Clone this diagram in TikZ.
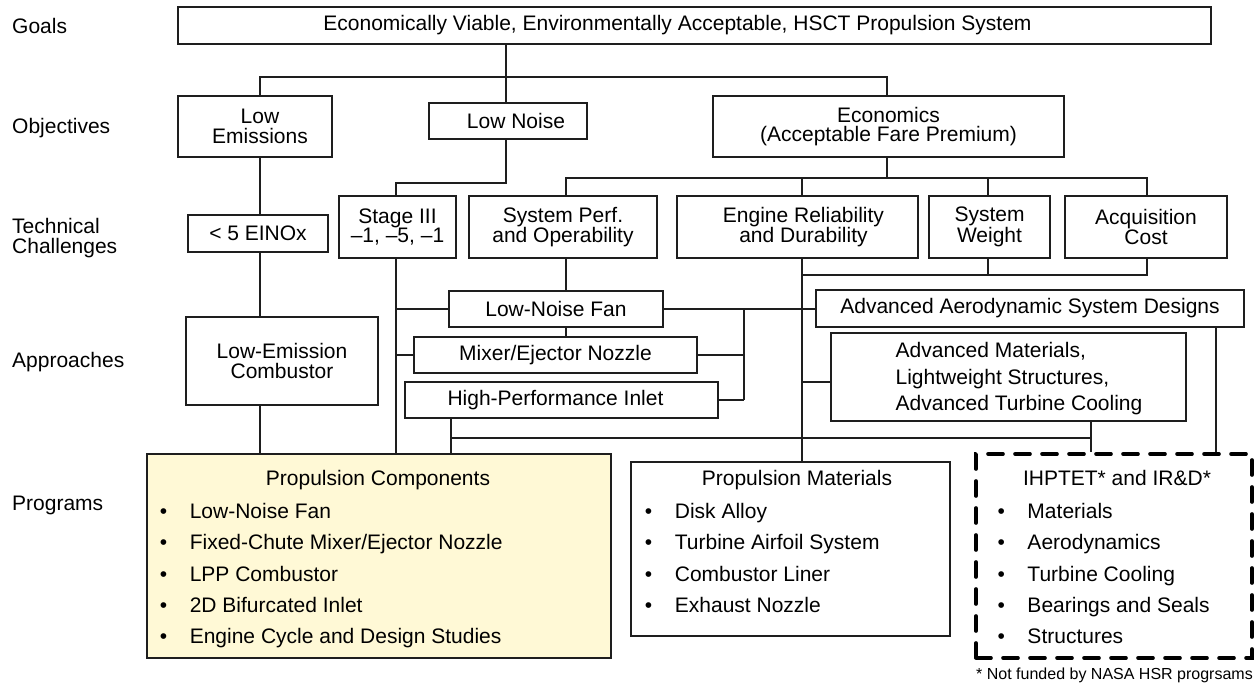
\documentclass[tikz,border=0pt]{standalone}
\usepackage{fontspec}
\setmainfont{Liberation Sans}
\definecolor{pcfill}{RGB}{255,249,214}
\definecolor{ink}{RGB}{30,30,30}
\newcommand\bul{\makebox[30pt][l]{\textbullet}}
\begin{document}
\begin{tikzpicture}[x=1pt,y=-1pt,
  every node/.style={font=\fontsize{21}{19.5}\selectfont, text=black},
  box/.style={draw=ink, line width=1.2pt, inner sep=0pt, align=center, fill=white},
  lnk/.style={draw=ink, line width=1.2pt},
  rowlab/.style={anchor=base west, align=left, inner sep=0pt},
  item/.style={anchor=base west, inner sep=0pt},
  ttl/.style={anchor=base, inner sep=0pt},
  dashbox/.style={draw=black, line width=3.6pt, dash pattern=on 15pt off 12pt, line cap=round, inner sep=0pt}
]
\useasboundingbox (0,0) rectangle (1256,687);

% row labels
\node[rowlab] (lgoal) at (12,34) {Goals};
\node[rowlab] (lobj) at (12,133.5) {Objectives};
\node[rowlab, anchor=west] (ltech) at (12,238) {Technical\\Challenges};
\node[rowlab] (lappr) at (12,367.5) {Approaches};
\node[rowlab] (lprog) at (12,510) {Programs};

% column and bus positions of the connectors
\coordinate (xa) at (260,0);
\coordinate (xg) at (506,0);
\coordinate (xst) at (396,0);
\coordinate (xsp) at (566,0);
\coordinate (xer) at (802,0);
\coordinate (xsw) at (988,0);
\coordinate (xac) at (1147,0);
\coordinate (xec) at (887,0);
\coordinate (xj) at (744,0);
\coordinate (xhp) at (451,0);
\coordinate (xam) at (1091,0);
\coordinate (xae) at (1216,0);
\coordinate (yb1) at (0,77);
\coordinate (yb2) at (0,183);
\coordinate (yb3) at (0,178);
\coordinate (yb4) at (0,275);
\coordinate (yb5) at (0,438);

% goal
\node[box, minimum width=1033pt, minimum height=37pt] (goal) at (694.5,25.5)
  {Economically Viable, Environmentally Acceptable, HSCT Propulsion System\hspace{34pt}};

% objectives
\node[box, minimum width=154pt, minimum height=61pt] (lowem) at (255,126.5)
  {\hspace*{10pt}Low\\\hspace*{10pt}Emissions};
\node[box, minimum width=158pt, minimum height=36pt] (lownoise) at (508,121) {\hspace{16pt}Low Noise};
\node[box, minimum width=351pt, minimum height=61pt] (econ) at (888.5,126.5) {Economics\\(Acceptable Fare Premium)};

% technical challenges
\node[box, minimum width=140pt, minimum height=37pt] (einox) at (258,233.5) {< 5 EINOx};
\node[box, minimum width=117pt, minimum height=62pt] (stage) at (397.5,227) {Stage III\\\textendash1, \textendash5, \textendash1};
\node[box, minimum width=188pt, minimum height=62pt] (sysperf) at (563,227) {System Perf.\\and Operability};
\node[box, minimum width=241pt, minimum height=62pt] (engrel) at (797.5,227)
  {\hspace*{12pt}Engine Reliability\\\hspace*{12pt}and Durability};
\node[box, minimum width=121pt, minimum height=62pt] (sysw) at (989.5,227) {System\\Weight};
\node[box, minimum width=162pt, minimum height=62pt] (acq) at (1146,227) {Acquisition\\Cost};

% approaches
\node[box, minimum width=192pt, minimum height=88pt] (comb) at (282,361) {Low-Emission\\Combustor};
\node[box, minimum width=214pt, minimum height=36pt] (lnf) at (556,309) {Low-Noise Fan};
\node[box, minimum width=283pt, minimum height=36pt] (mix) at (555.5,355) {Mixer/Ejector Nozzle};
\node[box, minimum width=313pt, minimum height=36pt] (hpi) at (561.5,400) {High-Performance Inlet\hspace{12pt}};
\node[box, minimum width=428pt, minimum height=37pt] (aero) at (1030,308.5) {Advanced Aerodynamic System Designs};
\node[box, minimum width=355pt, minimum height=88pt] (advmat) at (1008.5,377) {};
\node[align=left, inner sep=0pt, font=\fontsize{21}{26.5}\selectfont] (advmattxt) at (1019,379)
  {Advanced Materials,\\Lightweight Structures,\\Advanced Turbine Cooling};

% programs
\node[box, fill=pcfill, minimum width=464pt, minimum height=204pt] (pc) at (379,556) {};
\node[box, minimum width=319pt, minimum height=174pt] (pm) at (790.5,549) {};
\node[dashbox, minimum width=276pt, minimum height=204pt] (ih) at (1114,556) {};

\node[ttl] (pct) at (378,485) {Propulsion Components};
\node[item] (pc1) at (159.6,518.5) {\bul Low-Noise Fan};
\node[item] (pc2) at (159.6,549.8) {\bul Fixed-Chute Mixer/Ejector Nozzle};
\node[item] (pc3) at (159.6,581.1) {\bul LPP Combustor};
\node[item] (pc4) at (159.6,612.4) {\bul 2D Bifurcated Inlet};
\node[item] (pc5) at (159.6,643.7) {\bul Engine Cycle and Design Studies};

\node[ttl] (pmt) at (797,485) {Propulsion Materials};
\node[item] (pm1) at (644.7,518.5) {\bul Disk Alloy};
\node[item] (pm2) at (644.7,549.8) {\bul Turbine Airfoil System};
\node[item] (pm3) at (644.7,581.1) {\bul Combustor Liner};
\node[item] (pm4) at (644.7,612.4) {\bul Exhaust Nozzle};

\node[ttl] (iht) at (1117,485) {IHPTET* and IR\&D*};
\node[item] (ih1) at (997.3,518.5) {\bul Materials};
\node[item] (ih2) at (997.3,549.8) {\bul Aerodynamics};
\node[item] (ih3) at (997.3,581.1) {\bul Turbine Cooling};
\node[item] (ih4) at (997.3,612.4) {\bul Bearings and Seals};
\node[item] (ih5) at (997.3,643.7) {\bul Structures};

\node[anchor=base east, inner sep=0pt, font=\fontsize{16}{18}\selectfont] (note) at (1253,679)
  {* Not funded by NASA HSR progrsams};

% goal to objectives
\draw[lnk] (goal.south -| xg) -- (lownoise.north -| xg);
\draw[lnk] (lowem.north -| xa) -- (xa |- yb1) -| (econ.north -| xec);

% objectives to technical challenges
\draw[lnk] (lownoise.south -| xg) -- (xg |- yb2) -| (stage.north -| xst);
\draw[lnk] (econ.south -| xec) -- (xec |- yb3);
\draw[lnk] (sysperf.north -| xsp) -- (xsp |- yb3) -| (acq.north -| xac);
\draw[lnk] (engrel.north -| xer) -- (xer |- yb3);
\draw[lnk] (sysw.north -| xsw) -- (xsw |- yb3);

% emissions column
\draw[lnk] (lowem.south -| xa) -- (einox.north -| xa);
\draw[lnk] (einox.south -| xa) -- (comb.north -| xa);
\draw[lnk] (comb.south -| xa) -- (pc.north -| xa);

% noise and performance approaches
\draw[lnk] (stage.south -| xst) -- (pc.north -| xst);
\draw[lnk] (xst |- lnf.west) -- (lnf.west);
\draw[lnk] (xst |- mix.west) -- (mix.west);
\draw[lnk] (sysperf.south -| xsp) -- (lnf.north -| xsp);
\draw[lnk] (lnf.south -| xsp) -- (mix.north -| xsp);
\draw[lnk] (lnf.east) -- (lnf.east -| aero.west);
\draw[lnk] (mix.east) -- (mix.east -| xj);
\draw[lnk] (hpi.east) -- (hpi.east -| xj);
\draw[lnk] (xj |- lnf.east) -- (xj |- hpi.east);

% durability, weight and cost approaches
\draw[lnk] (engrel.south -| xer) -- (pm.north -| xer);
\draw[lnk] (sysw.south -| xsw) -- (xsw |- yb4);
\draw[lnk] (xer |- yb4) -| (acq.south -| xac);
\draw[lnk] ([yshift=-5pt]advmat.west) -- ([yshift=-5pt]advmat.west -| xer);

% approaches to programs
\draw[lnk] (hpi.south -| xhp) -- (pc.north -| xhp);
\draw[lnk] (xhp |- yb5) -- (xam |- yb5);
\draw[lnk] (advmat.south -| xam) -- (ih.north -| xam);
\draw[lnk] (aero.south -| xae) -- (ih.north -| xae);
\end{tikzpicture}
\end{document}
